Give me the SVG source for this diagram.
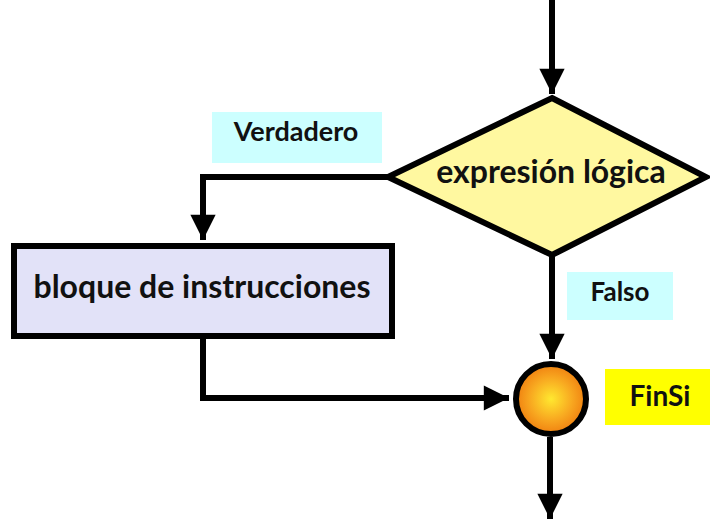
<svg xmlns="http://www.w3.org/2000/svg" width="710" height="519" viewBox="0 0 710 519">
<defs>
<marker id="ah" viewBox="0 0 10 10" refX="10" refY="5" markerWidth="4.6" markerHeight="4.2" orient="auto" markerUnits="strokeWidth">
<path d="M0,0 L10,5 L0,10 Z" fill="#000"/>
</marker>
<radialGradient id="og" cx="0.5" cy="0.5" r="0.5">
<stop offset="0" stop-color="#ffe830"/>
<stop offset="0.6" stop-color="#f8a820"/>
<stop offset="1" stop-color="#f08010"/>
</radialGradient>
</defs>
<style>
.t{font-family:Lato,"Open Sans",sans-serif;font-weight:bold;fill:#111;text-anchor:middle}
.c{fill:none;stroke:#000;stroke-width:6;stroke-linejoin:miter}
</style>
<rect width="710" height="519" fill="#fff"/>
<g id="connectors">
<path class="c" d="M552,0 V94" marker-end="url(#ah)"/>
<path class="c" d="M388,177 H203 V240" marker-end="url(#ah)"/>
<path class="c" d="M552,255 V359" marker-end="url(#ah)"/>
<path class="c" d="M203,337 V398 H509" marker-end="url(#ah)"/>
<path class="c" d="M550,437 V519" marker-end="url(#ah)"/>
</g>
<g id="label-verdadero">
<rect x="212" y="112" width="170" height="51" fill="#ccffff"/>
<text class="t" x="296" y="141" font-size="27">Verdadero</text>
</g>
<g id="decision">
<polygon points="552,98 706,177 552,255 388,177" fill="#fff8a0" stroke="#000" stroke-width="6" stroke-linejoin="miter"/>
<text class="t" x="551" y="183" font-size="32">expresión lógica</text>
</g>
<g id="block">
<rect x="14" y="246" width="378" height="90" fill="#e2e2f8" stroke="#000" stroke-width="6"/>
<text class="t" x="202" y="298" font-size="32">bloque de instrucciones</text>
</g>
<g id="label-falso">
<rect x="567" y="272" width="106" height="48" fill="#ccffff"/>
<text class="t" x="620" y="301" font-size="26">Falso</text>
</g>
<g id="finsi">
<circle cx="551" cy="399" r="35" fill="url(#og)" stroke="#000" stroke-width="6"/>
</g>
<g id="label-finsi">
<rect x="605" y="369" width="105" height="56" fill="#ffff00"/>
<text class="t" x="660" y="406" font-size="28">FinSi</text>
</g>
</svg>
